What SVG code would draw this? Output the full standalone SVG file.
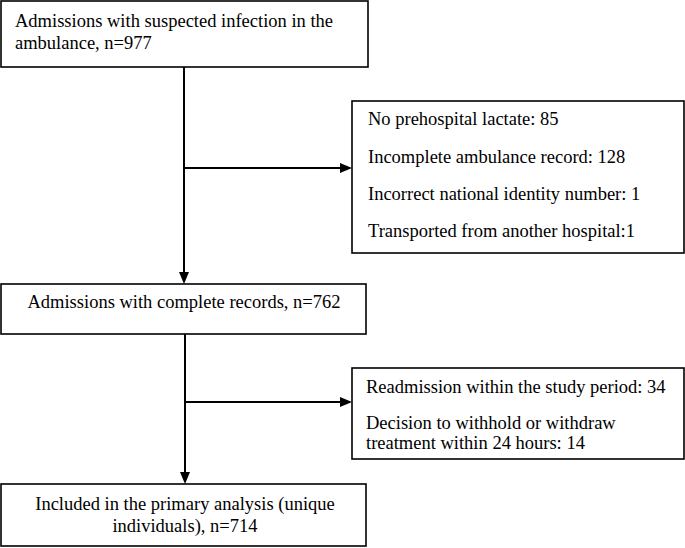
<svg xmlns="http://www.w3.org/2000/svg" width="685" height="548" viewBox="0 0 685 548">
  <style>
    .box { fill: #ffffff; stroke: #000000; stroke-width: 1.6; }
    .t { font-family: "Liberation Serif", "Times New Roman", serif; font-size: 18.5px; fill: #000000; }
    .c { text-anchor: middle; }
    .line { fill: none; stroke: #000000; stroke-width: 2; }
  </style>
  <defs>
    <marker id="arrow" markerUnits="userSpaceOnUse" markerWidth="12" markerHeight="10" refX="0" refY="5" orient="auto">
      <path d="M0,0 L12,5 L0,10 Z" fill="#000000"/>
    </marker>
  </defs>
  <rect x="0" y="0" width="685" height="548" fill="#ffffff"/>

  <g id="connectors">
    <path class="line" d="M184,67 V272" marker-end="url(#arrow)"/>
    <path class="line" d="M184,168 H340" marker-end="url(#arrow)"/>
    <path class="line" d="M185,334 V472" marker-end="url(#arrow)"/>
    <path class="line" d="M185,402 H340" marker-end="url(#arrow)"/>
  </g>

  <g id="node-suspected">
    <rect class="box" x="1" y="1" width="367" height="66"/>
    <text class="t" x="15" y="27">Admissions with suspected infection in the</text>
    <text class="t" x="15" y="49">ambulance, n=977</text>
  </g>

  <g id="node-exclusions1">
    <rect class="box" x="352" y="101" width="332" height="152"/>
    <text class="t" x="368" y="125">No prehospital lactate: 85</text>
    <text class="t" x="368" y="162.5">Incomplete ambulance record: 128</text>
    <text class="t" x="368" y="200">Incorrect national identity number: 1</text>
    <text class="t" x="368" y="237">Transported from another hospital:1</text>
  </g>

  <g id="node-complete">
    <rect class="box" x="1" y="284" width="365" height="50"/>
    <text class="t c" x="184" y="308">Admissions with complete records, n=762</text>
  </g>

  <g id="node-exclusions2">
    <rect class="box" x="352" y="368" width="332" height="91"/>
    <text class="t" x="366" y="393">Readmission within the study period: 34</text>
    <text class="t" x="366" y="429">Decision to withhold or withdraw</text>
    <text class="t" x="366" y="449">treatment within 24 hours: 14</text>
  </g>

  <g id="node-included">
    <rect class="box" x="1" y="484" width="365" height="62"/>
    <text class="t c" x="185" y="510">Included in the primary analysis (unique</text>
    <text class="t c" x="185" y="532">individuals), n=714</text>
  </g>
</svg>
